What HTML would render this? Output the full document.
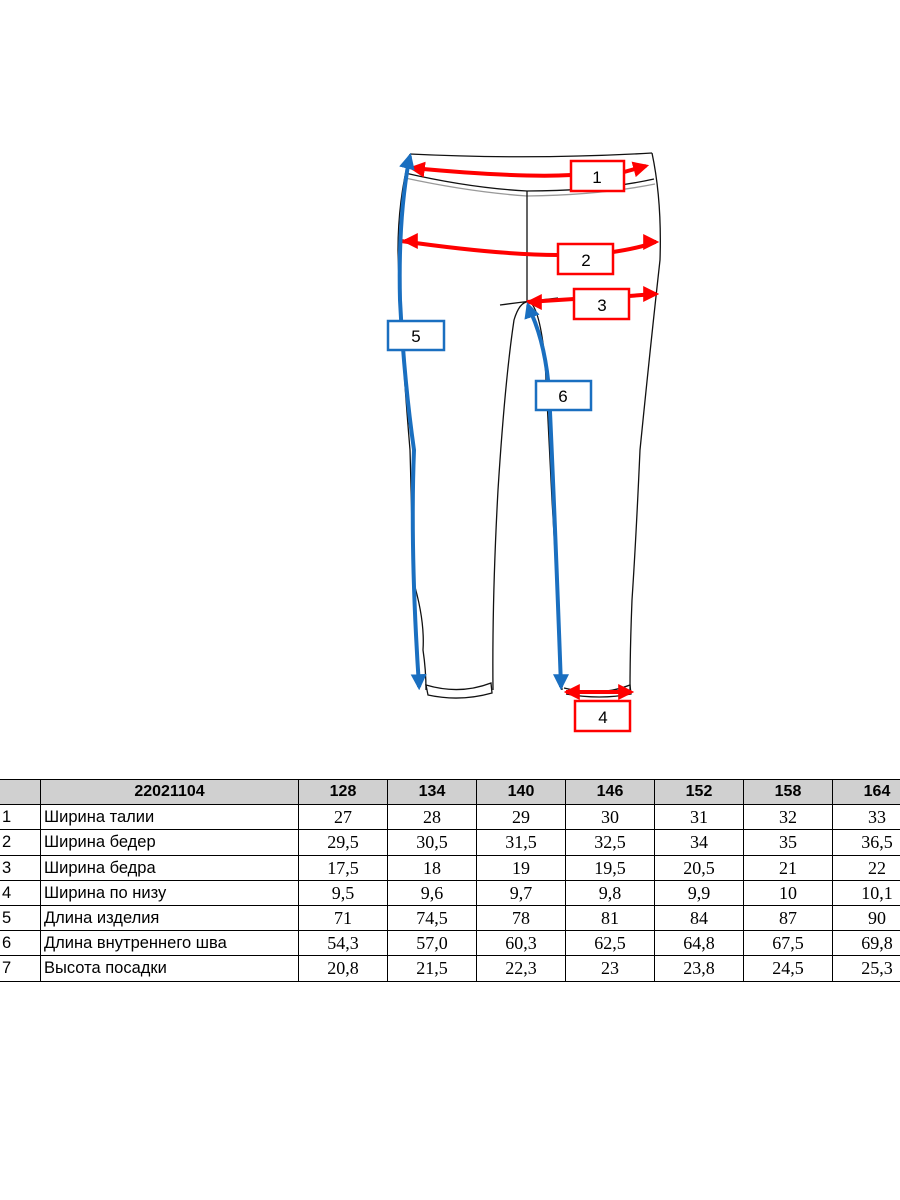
<!DOCTYPE html>
<html><head><meta charset="utf-8"><style>
html,body{margin:0;padding:0;background:#fff;width:900px;height:1200px;overflow:hidden;position:relative}
svg{position:absolute;left:0;top:0}
table{position:absolute;left:-2px;top:779px;border-collapse:collapse;table-layout:fixed;width:1024px}
td{border:1.5px solid #000;height:24.2px;padding:0;font-size:17px;line-height:22px;white-space:nowrap;overflow:hidden}
td.n{font-family:"Liberation Serif",serif;text-align:center;font-size:18px}
td.l{font-family:"Liberation Sans",sans-serif;padding-left:3px;font-size:16.5px}
tr.h td{background:#d0d0d0;font-family:"Liberation Sans",sans-serif;font-weight:bold;text-align:center;font-size:16px}
</style></head><body>
<svg width="900" height="760" viewBox="0 0 900 760">
<defs>
<marker id="r" viewBox="0 0 10 10" refX="8" refY="5" markerWidth="4" markerHeight="4" orient="auto-start-reverse"><path d="M0,0L10,5L0,10z" fill="#f00"/></marker>
<marker id="b" viewBox="0 0 10 10" refX="8" refY="5" markerWidth="4" markerHeight="4" orient="auto-start-reverse"><path d="M0,0L10,5L0,10z" fill="#1a6fc0"/></marker>
</defs>
<g fill="none" stroke="#111" stroke-width="1.3">
<path d="M410,154 Q530,160 652,153"/>
<path d="M405,173 Q470,188 527,191 Q600,191 654,179"/>
<path d="M405,178 Q470,192 527,196 Q600,195 655,184" stroke="#999"/>
<path d="M410,154 Q398,200 398,250 Q400,330 410,450 Q412,520 413,580 Q425,620 423,650 Q426,670 426,690"/>
<path d="M652,153 Q662,200 660,260 Q650,350 640,450 Q636,540 632,600 Q630,650 630,690"/>
<path d="M527,191 L527,302"/>
<path d="M500,305 Q530,301 558,298"/>
<path d="M493,690 Q492,600 498,490 Q505,380 514,320 Q520,300 530,302 Q540,310 545,360 Q548,420 552,500 Q558,600 562,690"/>
<path d="M426,685 Q460,695 491,683 L492,693 Q460,702 428,695 Z"/>
<path d="M564,688 Q600,697 630,685 L631,694 Q600,700 566,694"/>
</g>
<g fill="none" stroke="#f00" stroke-width="4">
<path d="M412,168 Q520,178 571,175 M624,172 L646,166" marker-end="url(#r)"/>
<path d="M412,168 L420,169" marker-start="url(#r)"/>
<path d="M401,241 Q500,255 558,255 M613,252 Q640,248 655,242" />
<path d="M655,242 l1,0" marker-end="url(#r)"/>
<path d="M406,241 l-1,0" marker-end="url(#r)"/>
<path d="M527,302 L574,299 M629,296 L655,294"/>
<path d="M655,294 l1,0" marker-end="url(#r)"/>
<path d="M530,302 l-1,0" marker-end="url(#r)"/>
<path d="M566,692 L630,692"/>
<path d="M630,692 l1,0" marker-end="url(#r)"/>
<path d="M568,692 l-1,0" marker-end="url(#r)"/>
</g>
<g fill="none" stroke="#1a6fc0" stroke-width="4">
<path d="M409,160 Q398,220 400,300 Q404,380 414,450 Q410,550 419,686"/>
<path d="M409,160 l1,-4" marker-end="url(#b)"/>
<path d="M419,684 l0.1,3" marker-end="url(#b)"/>
<path d="M528,306 Q545,340 549,390 Q555,520 561,686"/>
<path d="M529,308 l-1,-3" marker-end="url(#b)"/>
<path d="M561,684 l0,3" marker-end="url(#b)"/>
</g>
<g stroke-width="2.5" fill="#fff">
<rect x="571" y="161" width="53" height="30" stroke="#f00"/>
<rect x="558" y="244" width="55" height="30" stroke="#f00"/>
<rect x="574" y="289" width="55" height="30" stroke="#f00"/>
<rect x="575" y="701" width="55" height="30" stroke="#f00"/>
<rect x="388" y="321" width="56" height="29" stroke="#1a6fc0"/>
<rect x="536" y="381" width="55" height="29" stroke="#1a6fc0"/>
</g>
<g fill="#000" font-family="Liberation Sans,sans-serif" font-size="17" text-anchor="middle">
<text x="597" y="183">1</text>
<text x="586" y="266">2</text>
<text x="602" y="311">3</text>
<text x="603" y="723">4</text>
<text x="416" y="342">5</text>
<text x="563" y="402">6</text>
</g>
</svg>
<table>
<colgroup><col style="width:42px"><col style="width:258px"><col style="width:89px"><col style="width:89px"><col style="width:89px"><col style="width:89px"><col style="width:89px"><col style="width:89px"><col style="width:89px"><col style="width:101px"></colgroup>
<tr class="h"><td></td><td>22021104</td><td>128</td><td>134</td><td>140</td><td>146</td><td>152</td><td>158</td><td>164</td><td></td></tr>
<tr><td class="l">1</td><td class="l">Ширина талии</td><td class="n">27</td><td class="n">28</td><td class="n">29</td><td class="n">30</td><td class="n">31</td><td class="n">32</td><td class="n">33</td><td></td></tr>
<tr><td class="l">2</td><td class="l">Ширина бедер</td><td class="n">29,5</td><td class="n">30,5</td><td class="n">31,5</td><td class="n">32,5</td><td class="n">34</td><td class="n">35</td><td class="n">36,5</td><td></td></tr>
<tr><td class="l">3</td><td class="l">Ширина бедра</td><td class="n">17,5</td><td class="n">18</td><td class="n">19</td><td class="n">19,5</td><td class="n">20,5</td><td class="n">21</td><td class="n">22</td><td></td></tr>
<tr><td class="l">4</td><td class="l">Ширина по низу</td><td class="n">9,5</td><td class="n">9,6</td><td class="n">9,7</td><td class="n">9,8</td><td class="n">9,9</td><td class="n">10</td><td class="n">10,1</td><td></td></tr>
<tr><td class="l">5</td><td class="l">Длина изделия</td><td class="n">71</td><td class="n">74,5</td><td class="n">78</td><td class="n">81</td><td class="n">84</td><td class="n">87</td><td class="n">90</td><td></td></tr>
<tr><td class="l">6</td><td class="l">Длина внутреннего шва</td><td class="n">54,3</td><td class="n">57,0</td><td class="n">60,3</td><td class="n">62,5</td><td class="n">64,8</td><td class="n">67,5</td><td class="n">69,8</td><td></td></tr>
<tr><td class="l">7</td><td class="l">Высота посадки</td><td class="n">20,8</td><td class="n">21,5</td><td class="n">22,3</td><td class="n">23</td><td class="n">23,8</td><td class="n">24,5</td><td class="n">25,3</td><td></td></tr>
</table>
</body></html>
